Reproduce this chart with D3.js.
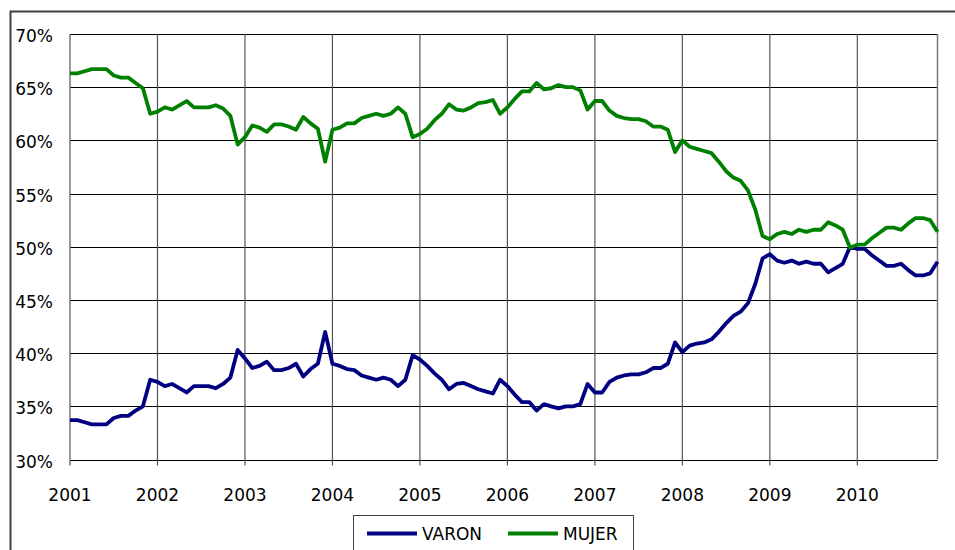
<!DOCTYPE html>
<html>
<head>
<meta charset="utf-8">
<script src="https://cdn.jsdelivr.net/npm/d3@7"></script>
<style>
  body { margin: 0; background: #fff; }
  text { font-family: "DejaVu Sans", sans-serif; fill: #000; }
</style>
</head>
<body>
<script>

// years on the x axis (one label every 12 months)
var years = ['2001', '2002', '2003', '2004', '2005', '2006', '2007', '2008', '2009', '2010'];

// y ticks
var yTicks = [0.30, 0.35, 0.40, 0.45, 0.50, 0.55, 0.60, 0.65, 0.70];

// monthly shares, jan 2001 -> dec 2010 (percent)
var varon = [
  33.7, 33.7, 33.5, 33.3, 33.3, 33.3, 33.9, 34.1, 34.1, 34.6, 35.0, 37.5,
  37.3, 36.9, 37.1, 36.7, 36.3, 36.9, 36.9, 36.9, 36.7, 37.1, 37.7, 40.3,
  39.5, 38.6, 38.8, 39.2, 38.4, 38.4, 38.6, 39.0, 37.8, 38.5, 39.0, 42.0,
  39.0, 38.8, 38.5, 38.4, 37.9, 37.7, 37.5, 37.7, 37.5, 36.9, 37.5, 39.8,
  39.4, 38.8, 38.1, 37.5, 36.6, 37.1, 37.2, 36.9, 36.6, 36.4, 36.2, 37.5,
  36.9, 36.1, 35.4, 35.4, 34.6, 35.2, 35.0, 34.8, 35.0, 35.0, 35.2, 37.1,
  36.3, 36.3, 37.3, 37.7, 37.9, 38.0, 38.0, 38.2, 38.6, 38.6, 39.0, 41.0,
  40.1, 40.7, 40.9, 41.0, 41.3, 42.0, 42.8, 43.5, 43.9, 44.7, 46.5, 48.9,
  49.3, 48.7, 48.5, 48.7, 48.4, 48.6, 48.4, 48.4, 47.6, 48.0, 48.4, 50.0,
  49.8, 49.8, 49.2, 48.7, 48.2, 48.2, 48.4, 47.8, 47.3, 47.3, 47.5, 48.6
];
var mujer = [
  66.3, 66.3, 66.5, 66.7, 66.7, 66.7, 66.1, 65.9, 65.9, 65.4, 64.9, 62.5,
  62.7, 63.1, 62.9, 63.3, 63.7, 63.1, 63.1, 63.1, 63.3, 63.0, 62.3, 59.6,
  60.3, 61.4, 61.2, 60.8, 61.5, 61.5, 61.3, 61.0, 62.2, 61.6, 61.1, 58.0,
  61.0, 61.2, 61.6, 61.6, 62.1, 62.3, 62.5, 62.3, 62.5, 63.1, 62.5, 60.3,
  60.6, 61.1, 61.9, 62.5, 63.4, 62.9, 62.8, 63.1, 63.5, 63.6, 63.8, 62.5,
  63.1, 63.9, 64.6, 64.6, 65.4, 64.8, 64.9, 65.2, 65.0, 65.0, 64.7, 62.9,
  63.7, 63.7, 62.8, 62.3, 62.1, 62.0, 62.0, 61.8, 61.3, 61.3, 61.0, 58.9,
  60.0, 59.4, 59.2, 59.0, 58.8, 58.0, 57.1, 56.5, 56.2, 55.3, 53.5, 51.0,
  50.7, 51.2, 51.4, 51.2, 51.6, 51.4, 51.6, 51.6, 52.3, 52.0, 51.6, 49.9,
  50.2, 50.2, 50.8, 51.3, 51.8, 51.8, 51.6, 52.2, 52.7, 52.7, 52.5, 51.4
];

var seriesNames = ['VARON', 'MUJER'];
var seriesColors = ['#000080', '#008000'];

// set the dimensions of the page and the plot area
var width = 955, height = 550;
var plot = {left: 70, right: 937.5, top: 34, bottom: 459.5};

var svg = d3.select("body").append("svg")
    .attr("width", width)
    .attr("height", height);

// outer chart border (cut off at the right and bottom)
svg.append("rect")
    .attr("x", 10.5)
    .attr("y", 11.5)
    .attr("width", 960)
    .attr("height", 560)
    .attr("fill", "none")
    .attr("stroke", "#404040")
    .attr("stroke-width", 2);

// set the ranges
var x = d3.scaleLinear()
    .domain([0, varon.length - 1])
    .range([plot.left, plot.right]);
var y = d3.scaleLinear()
    .domain([0.30, 0.70])
    .range([plot.bottom, plot.top]);

// horizontal grid lines
svg.append("g")
  .selectAll("line")
    .data(yTicks)
  .enter().append("line")
    .attr("x1", plot.left)
    .attr("x2", plot.right)
    .attr("y1", function(d) { return Math.round(y(d)) + 0.5; })
    .attr("y2", function(d) { return Math.round(y(d)) + 0.5; })
    .attr("stroke", "#000")
    .attr("stroke-width", 1);

// vertical grid lines, one per year, plus the tick below the axis
var yearIdx = years.map(function(d, i) { return i * 12; });
svg.append("g")
  .selectAll("line")
    .data(yearIdx)
  .enter().append("line")
    .attr("x1", function(d) { return x(d); })
    .attr("x2", function(d) { return x(d); })
    .attr("y1", plot.top)
    .attr("y2", plot.bottom + 6)
    .attr("stroke", "#555")
    .attr("stroke-width", 1.2);

// right border of the plot area
svg.append("line")
    .attr("x1", plot.right)
    .attr("x2", plot.right)
    .attr("y1", plot.top)
    .attr("y2", plot.bottom)
    .attr("stroke", "#777")
    .attr("stroke-width", 1.5);

// y axis labels
svg.append("g")
  .selectAll("text")
    .data(yTicks)
  .enter().append("text")
    .attr("x", 53)
    .attr("y", function(d) { return y(d) + 3; })
    .attr("text-anchor", "end")
    .attr("dominant-baseline", "middle")
    .style("font-size", "17px")
    .text(function(d) { return d3.format(".0%")(d); });

// x axis labels
svg.append("g")
  .selectAll("text")
    .data(years)
  .enter().append("text")
    .attr("x", function(d, i) { return x(i * 12); })
    .attr("y", 501)
    .attr("text-anchor", "middle")
    .style("font-size", "17px")
    .text(function(d) { return d; });

// the two lines
var line = d3.line()
    .x(function(d, i) { return x(i); })
    .y(function(d) { return y(d / 100); });

[varon, mujer].forEach(function(serie, k) {
  svg.append("path")
      .datum(serie)
      .attr("fill", "none")
      .attr("stroke", seriesColors[k])
      .attr("stroke-width", 3.8)
      .attr("stroke-linejoin", "round")
      .attr("d", line);
});

// legend box
var legend = svg.append("g");
legend.append("rect")
    .attr("x", 353.5)
    .attr("y", 515.5)
    .attr("width", 280)
    .attr("height", 50)
    .attr("fill", "#fff")
    .attr("stroke", "#404040")
    .attr("stroke-width", 1);

var legendX = [367, 508];
seriesNames.forEach(function(name, k) {
  legend.append("line")
      .attr("x1", legendX[k])
      .attr("x2", legendX[k] + 50)
      .attr("y1", 533.5)
      .attr("y2", 533.5)
      .attr("stroke", seriesColors[k])
      .attr("stroke-width", 3.8);
  legend.append("text")
      .attr("x", legendX[k] + 55)
      .attr("y", 535)
      .attr("dominant-baseline", "middle")
      .style("font-size", "17px")
      .text(name);
});

</script>
</body>
</html>
